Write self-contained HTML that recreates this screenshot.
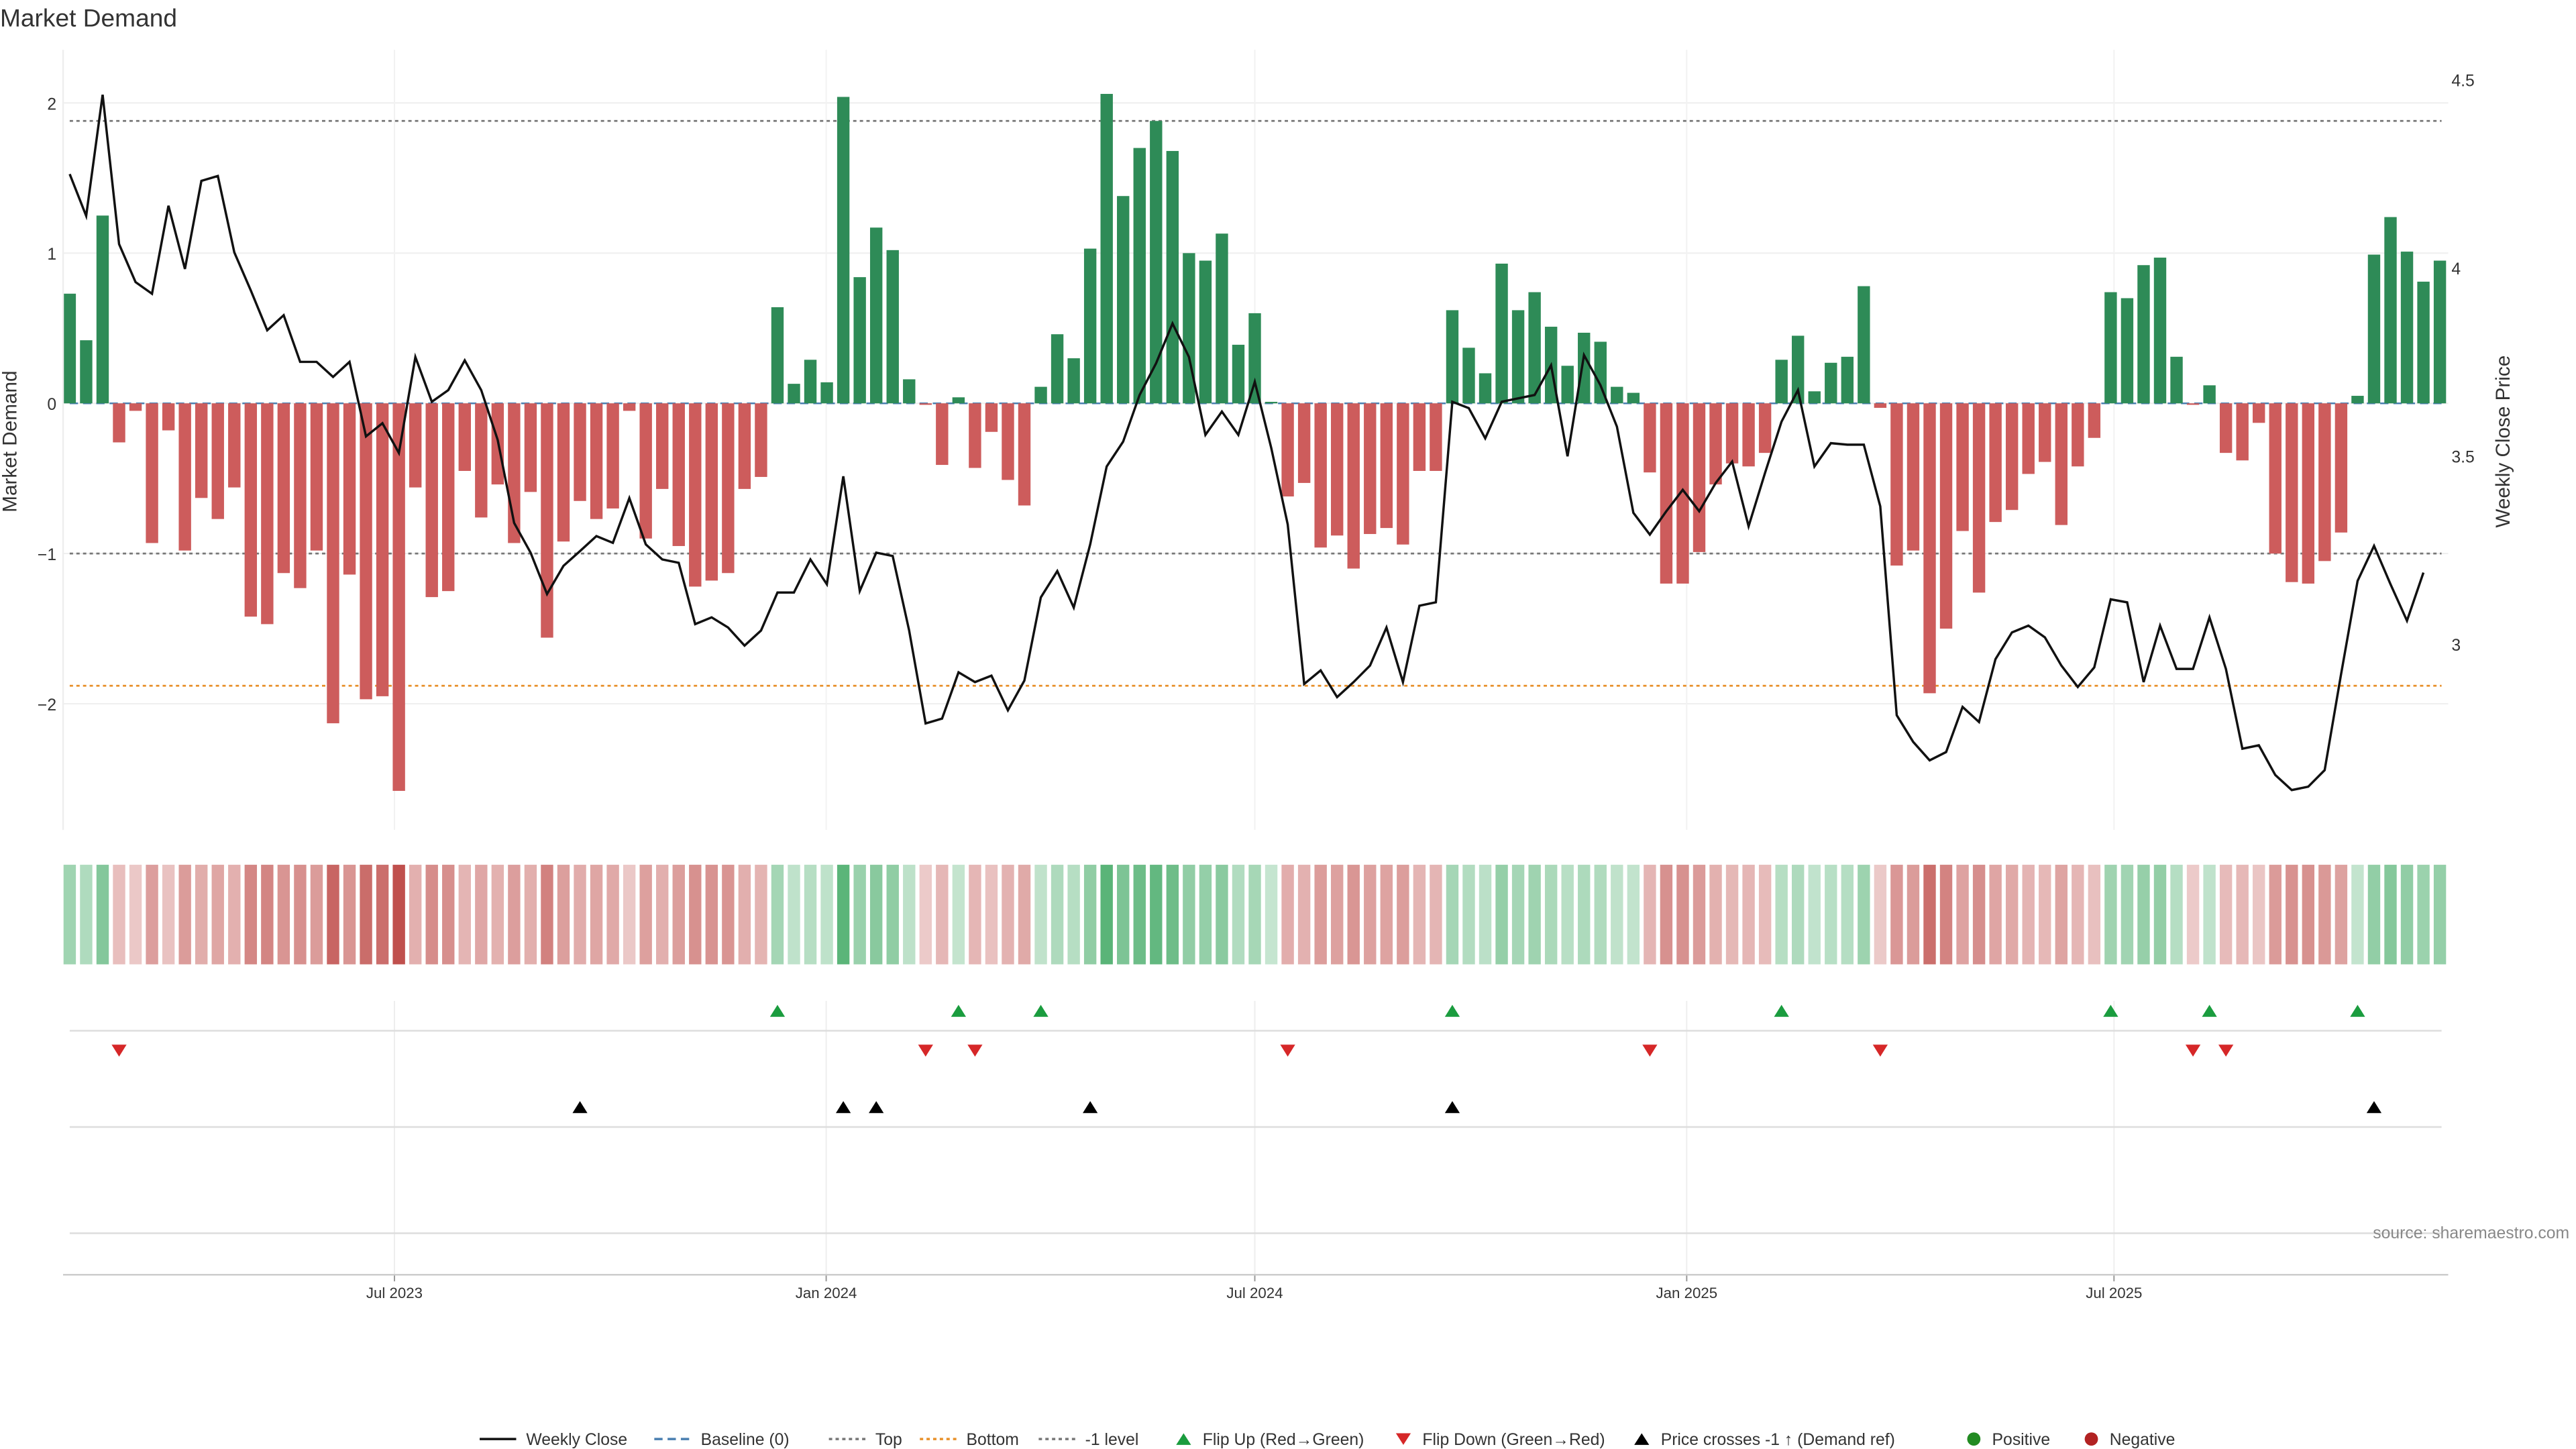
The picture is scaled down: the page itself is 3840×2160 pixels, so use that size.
<!DOCTYPE html>
<html><head><meta charset="utf-8"><style>
html,body{margin:0;padding:0;background:#fff;}
svg{display:block;font-family:"Liberation Sans",sans-serif;}
</style></head><body>
<svg id="chart" width="3840" height="2160" viewBox="0 0 1552 873" xmlns="http://www.w3.org/2000/svg">
<text x="0" y="16" font-size="15" fill="#333">Market Demand</text>
<g id="grid"></g><g id="refs"></g><g id="bars"></g><g id="line"></g><g id="heat"></g><g id="events"></g><g id="axes"></g>
<text x="10" y="266" font-size="12" fill="#333" text-anchor="middle" transform="rotate(-90 10 266)">Market Demand</text>
<text x="1512" y="266" font-size="12" fill="#333" text-anchor="middle" transform="rotate(-90 1512 266)">Weekly Close Price</text>
<text x="1548" y="746" font-size="10" fill="#888" text-anchor="end">source: sharemaestro.com</text>
<g id="legend"></g>
</svg>
<script>
const demand=[0.73,0.42,1.25,-0.26,-0.05,-0.93,-0.18,-0.98,-0.63,-0.77,-0.56,-1.42,-1.47,-1.13,-1.23,-0.98,-2.13,-1.14,-1.97,-1.95,-2.58,-0.56,-1.29,-1.25,-0.45,-0.76,-0.54,-0.93,-0.59,-1.56,-0.92,-0.65,-0.77,-0.70,-0.05,-0.90,-0.57,-0.95,-1.22,-1.18,-1.13,-0.57,-0.49,0.64,0.13,0.29,0.14,2.04,0.84,1.17,1.02,0.16,-0.01,-0.41,0.04,-0.43,-0.19,-0.51,-0.68,0.11,0.46,0.30,1.03,2.06,1.38,1.70,1.88,1.68,1.00,0.95,1.13,0.39,0.60,0.01,-0.62,-0.53,-0.96,-0.88,-1.10,-0.87,-0.83,-0.94,-0.45,-0.45,0.62,0.37,0.20,0.93,0.62,0.74,0.51,0.25,0.47,0.41,0.11,0.07,-0.46,-1.20,-1.20,-0.99,-0.54,-0.40,-0.42,-0.33,0.29,0.45,0.08,0.27,0.31,0.78,-0.03,-1.08,-0.98,-1.93,-1.50,-0.85,-1.26,-0.79,-0.71,-0.47,-0.39,-0.81,-0.42,-0.23,0.74,0.70,0.92,0.97,0.31,-0.01,0.12,-0.33,-0.38,-0.13,-1.00,-1.19,-1.20,-1.05,-0.86,0.05,0.99,1.24,1.01,0.81,0.95];
const price=[4.249,4.138,4.460,4.063,3.962,3.931,4.165,3.997,4.231,4.244,4.041,3.940,3.834,3.874,3.750,3.750,3.710,3.750,3.552,3.587,3.508,3.763,3.644,3.675,3.754,3.675,3.543,3.322,3.243,3.133,3.208,3.247,3.287,3.269,3.388,3.265,3.225,3.216,3.053,3.071,3.044,2.996,3.036,3.137,3.137,3.225,3.159,3.446,3.141,3.243,3.234,3.036,2.789,2.802,2.925,2.899,2.916,2.824,2.903,3.124,3.194,3.097,3.265,3.472,3.538,3.662,3.746,3.852,3.763,3.556,3.618,3.556,3.697,3.521,3.318,2.894,2.930,2.859,2.899,2.943,3.044,2.899,3.102,3.111,3.644,3.627,3.547,3.644,3.653,3.662,3.741,3.499,3.768,3.688,3.578,3.349,3.291,3.353,3.410,3.353,3.428,3.485,3.313,3.455,3.591,3.675,3.472,3.534,3.530,3.530,3.366,2.811,2.740,2.691,2.713,2.833,2.793,2.960,3.031,3.049,3.018,2.943,2.886,2.938,3.119,3.111,2.899,3.049,2.934,2.934,3.071,2.934,2.722,2.731,2.652,2.612,2.621,2.665,2.921,3.168,3.261,3.159,3.062,3.190];
const refLevels=[1.88,-1,-1.88];
const priceRef=3.24;
const yTicks=[2,1,0,-1,-2];
const yTickLabels=["2","1","0","\u22122","\u22122".slice(0,0)+"\u22122"];
const y2Ticks=[4.5,4,3.5,3];
const y2TickLabels=["4.5","4","3.5","3"];
const xTickIdx=[19.73,45.96,72.0,98.24,124.2];
const xTickLabels=["Jul 2023","Jan 2024","Jul 2024","Jan 2025","Jul 2025"];

const NS="http://www.w3.org/2000/svg";
function mk(tag,attrs,parent,txt){const e=document.createElementNS(NS,tag);for(const k in attrs)e.setAttribute(k,attrs[k]);if(txt!==undefined)e.textContent=txt;document.getElementById(parent)?document.getElementById(parent).appendChild(e):parent.appendChild(e);return e;}
const N=demand.length;
const x0=42,x1=1470;
const step=(x1-x0)/(N-1);
const X=i=>x0+i*step;
const Y=v=>243-v*90.5;
const Y2=p=>48+(4.5-p)*226.7;
const green="#2e8b57",red="#cd5c5c";

// grid
yTicks.forEach((t,k)=>{
 let l=mk('line',{x1:38,x2:1475,y1:Y(t),y2:Y(t),stroke:"#eee","stroke-width":0.8},'grid');
 
 let tx=mk('text',{x:34,y:Y(t)+4,"font-size":10,"text-anchor":"end",fill:"#333"},'axes',["2","1","0","\u22121","\u22122"][k]);
 
});
y2Ticks.forEach((t,k)=>{
 let tx=mk('text',{x:1477,y:Y2(t)+4,"font-size":10,fill:"#333"},'axes',y2TickLabels[k]);
 
});
xTickIdx.forEach((t,k)=>{
 const x=X(t);
 let l=mk('line',{x1:x,x2:x,y1:30,y2:500,stroke:"#f2f2f2","stroke-width":0.8},'grid');
 
 let l2=mk('line',{x1:x,x2:x,y1:603,y2:768,stroke:"#eee","stroke-width":0.8},'grid');
 
 let tk=mk('line',{x1:x,x2:x,y1:768,y2:772,stroke:"#999","stroke-width":0.8},'axes');
 
 let tx=mk('text',{x:x,y:782,"font-size":9,"text-anchor":"middle",fill:"#333"},'axes',xTickLabels[k]);
 
});
[621,679,743].forEach(y=>{
 let l=mk('line',{x1:42,x2:1471,y1:y,y2:y,stroke:"#ddd","stroke-width":1},'grid');
 
});
let ax=mk('line',{x1:38,x2:1475,y1:768,y2:768,stroke:"#ccc","stroke-width":1},'axes');

let lax=mk('line',{x1:38,x2:38,y1:30,y2:500,stroke:"#eee","stroke-width":1},'axes');


// ref lines
const refCols=["#777","#777","#e8902a"];
refLevels.forEach((v,k)=>{
 let l=mk('line',{x1:42,x2:1471,y1:Y(v),y2:Y(v),stroke:refCols[k],"stroke-width":1.1,"stroke-dasharray":"2 2"},'refs');
 
});
let bl=mk('line',{x1:42,x2:1471,y1:Y(0),y2:Y(0),stroke:"#4a7fb0","stroke-width":1,"stroke-dasharray":"5 3"},'refs');


// bars & heat
const bw=step*0.75;
const maxAbs=Math.max(...demand.map(Math.abs));
demand.forEach((v,i)=>{
 const y=Math.min(Y(v),Y(0)),h=Math.abs(Y(v)-Y(0));
 let r=mk('rect',{x:X(i)-bw/2,y:y,width:bw,height:Math.max(h,0.3),fill:v>=0?green:red},'bars');
 
 const a=0.3+0.7*Math.abs(v)/maxAbs;
 let c=mk('rect',{x:X(i)-bw/2,y:521,width:bw,height:60,fill:v>=0?"#3fa862":"#c0504d","fill-opacity":a},'heat');
 
});
// price line
let d=price.map((p,i)=>(i?"L":"M")+X(i).toFixed(2)+" "+Y2(p).toFixed(2)).join(" ");
let pl=mk('path',{d:d,fill:"none",stroke:"#111","stroke-width":1.4},'line');


// events
function tri(x,y,up,col,name){
 const s=4.5;
 const pts=up?`${x-s},${y+s*0.8} ${x+s},${y+s*0.8} ${x},${y-s*0.8}`:`${x-s},${y-s*0.8} ${x+s},${y-s*0.8} ${x},${y+s*0.8}`;
 let p=mk('polygon',{points:pts,fill:col},'events');
 
}
for(let i=1;i<N;i++){
 if(demand[i-1]<0&&demand[i]>=0)tri(X(i),609,true,"#1a9c3e","flip-up-marker");
 if(demand[i-1]>=0&&demand[i]<0)tri(X(i),633,false,"#d62728","flip-down-marker");
 if(price[i-1]<priceRef&&price[i]>=priceRef)tri(X(i),667,true,"#000","price-cross-marker");
}

// legend
const L=document.getElementById('legend');
let lx=289;const ly=867;
function ltext(t){let e=mk('text',{x:lx,y:ly+3.5,"font-size":10,fill:"#333"},L,t);lx+=t.length*5.6+10;}
function lline(col,dash,name){let e=mk('line',{x1:lx,x2:lx+22,y1:ly,y2:ly,stroke:col,"stroke-width":1.4,"stroke-dasharray":dash},L);lx+=28;}
function lmark(kind,col,name){let e;if(kind==='c'){e=mk('circle',{cx:lx+5,cy:ly,r:4,fill:col},L);}else{const s=4.5;const pts=kind==='u'?`${lx},${ly+3.5} ${lx+9},${ly+3.5} ${lx+4.5},${ly-3.5}`:`${lx},${ly-3.5} ${lx+9},${ly-3.5} ${lx+4.5},${ly+3.5}`;e=mk('polygon',{points:pts,fill:col},L);}lx+=16;}
lline("#111","none","legend-weekly-close");ltext("Weekly Close");
lline("#4a7fb0","5 3","legend-baseline");ltext("Baseline (0)");
lline("#777","2 2","legend-top");ltext("Top");
lline("#e8902a","2 2","legend-bottom");ltext("Bottom");
lline("#777","2 2","legend-minus-one");ltext("-1 level");
lmark('u',"#1a9c3e","legend-flip-up");ltext("Flip Up (Red\u2192Green)");
lmark('d',"#d62728","legend-flip-down");ltext("Flip Down (Green\u2192Red)");
lmark('u',"#000","legend-price-cross");ltext("Price crosses -1 \u2191 (Demand ref)");
lmark('c',"#228b22","legend-positive");ltext("Positive");
lmark('c',"#b22222","legend-negative");ltext("Negative");
</script>
</body></html>
